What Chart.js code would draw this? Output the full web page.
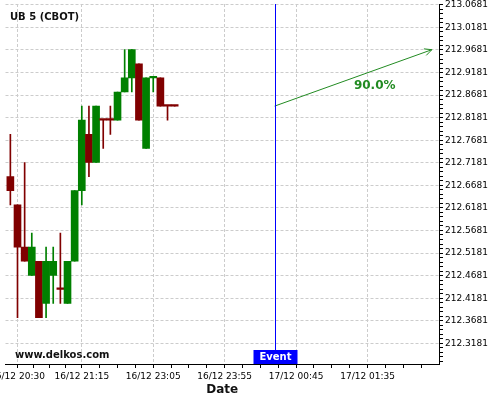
<!DOCTYPE html>
<html>
<head>
<meta charset="utf-8">
<script src="https://cdn.jsdelivr.net/npm/chart.js@4.4.1/dist/chart.umd.min.js"></script>
<style>
  html, body { margin: 0; padding: 0; background: #fff; }
  #wrap { width: 500px; height: 400px; }
</style>
</head>
<body>
<div id="wrap"><canvas id="candleChart"></canvas></div>
<script>
// UB 5 (CBOT) - 5 min candles, prices move in 1/32 steps
const opens  = [212.6875, 212.625, 212.53125, 212.46875, 212.5, 212.40625, 212.46875, 212.4375,
                212.40625, 212.5, 212.65625, 212.78125, 212.71875, 212.8125, 212.8125, 212.8125,
                212.875, 212.90625, 212.9375, 212.75, 212.90625, 212.90625, 212.84375, 212.84375];
const highs  = [212.78125, 212.625, 212.71875, 212.5625, 212.5, 212.53125, 212.53125, 212.5625,
                212.5, 212.65625, 212.84375, 212.84375, 212.84375, 212.8125, 212.84375, 212.875,
                212.96875, 212.96875, 212.9375, 212.90625, 212.90625, 212.90625, 212.84375, 212.84375];
const lows   = [212.625, 212.375, 212.5, 212.46875, 212.375, 212.375, 212.40625, 212.40625,
                212.40625, 212.5, 212.625, 212.6875, 212.71875, 212.75, 212.78125, 212.8125,
                212.875, 212.875, 212.8125, 212.75, 212.875, 212.84375, 212.8125, 212.84375];
const closes = [212.65625, 212.53125, 212.5, 212.53125, 212.375, 212.5, 212.5, 212.4375,
                212.5, 212.65625, 212.8125, 212.71875, 212.84375, 212.8125, 212.8125, 212.875,
                212.90625, 212.96875, 212.8125, 212.90625, 212.90625, 212.84375, 212.84375, 212.84375];
// doji candles that are drawn green
const upDojis = [20];

// x axis: bar index -> date label
const xTickIdx    = [1, 10, 20, 30, 40, 50];
const xTickLabels = ['16/12 20:30', '16/12 21:15', '16/12 23:05', '16/12 23:55', '17/12 00:45', '17/12 01:35'];
const yTickValues = [212.3181, 212.3681, 212.4181, 212.4681, 212.5181, 212.5681, 212.6181, 212.6681,
                     212.7181, 212.7681, 212.8181, 212.8681, 212.9181, 212.9681, 213.0181, 213.0681];

// event and forecast
const eventIdx = 37;
const targetIdx = 59;
const targetPrice = 212.96875;
const forecastLabel = '90.0%';

const RED = '#800000';
const GREEN = '#008000';
const ARROW = '#228b22';
const FONT = 'DejaVu Sans';

const isUp = opens.map((o, i) => closes[i] > o || (closes[i] === o && upDojis.includes(i)));
const candleColors = isUp.map(u => u ? GREEN : RED);

const bodies = opens.map((o, i) => ({x: i, y: [o, closes[i]]}));
const wicks = lows.map((l, i) => ({x: i, y: [l, highs[i]]}));
const lastClose = closes[closes.length - 1];

const overlay = {
    id: 'overlay',
    afterDatasetsDraw(chart) {
        const {ctx, chartArea, scales: {x, y}} = chart;
        ctx.save();

        // event line
        const ex = Math.round(x.getPixelForValue(eventIdx)) + 0.5;
        ctx.strokeStyle = '#0000ff';
        ctx.lineWidth = 1;
        ctx.beginPath();
        ctx.moveTo(ex, chartArea.top);
        ctx.lineTo(ex, chartArea.bottom);
        ctx.stroke();

        // arrow head
        const pts = chart.getDatasetMeta(2).data;
        const p0 = pts[0], p1 = pts[1];
        const ang = Math.atan2(p1.y - p0.y, p1.x - p0.x);
        ctx.strokeStyle = ARROW;
        ctx.beginPath();
        ctx.moveTo(p1.x - 8 * Math.cos(ang - 0.45), p1.y - 8 * Math.sin(ang - 0.45));
        ctx.lineTo(p1.x, p1.y);
        ctx.lineTo(p1.x - 8 * Math.cos(ang + 0.45), p1.y - 8 * Math.sin(ang + 0.45));
        ctx.stroke();

        ctx.fillStyle = ARROW;
        ctx.font = 'bold 12px "' + FONT + '"';
        ctx.textAlign = 'center';
        ctx.textBaseline = 'middle';
        ctx.fillText(forecastLabel, x.getPixelForValue(51), y.getPixelForValue(212.889));

        // event tag
        ctx.fillStyle = '#0000ff';
        ctx.fillRect(ex - 22, chartArea.bottom - 14, 44, 14);
        ctx.fillStyle = '#fff';
        ctx.font = 'bold 10px "' + FONT + '"';
        ctx.fillText('Event', ex, chartArea.bottom - 6.5);

        // title and watermark
        ctx.fillStyle = '#111';
        ctx.textAlign = 'left';
        ctx.textBaseline = 'alphabetic';
        ctx.fillText('UB 5 (CBOT)', 10, 19.5);
        ctx.fillText('www.delkos.com', 15, 357.5);
        ctx.restore();
    }
};

const minorColor = ctx => (ctx.tick && ctx.tick.minor) ? 'rgba(0,0,0,0)' : '#cccccc';

new Chart(document.getElementById('candleChart'), {
    type: 'bar',
    data: {
        datasets: [{
            label: 'wicks',
            data: wicks,
            backgroundColor: candleColors,
            barThickness: 1,
            grouped: false,
            order: 2
        }, {
            label: 'bodies',
            data: bodies,
            backgroundColor: candleColors,
            barThickness: 7,
            minBarLength: 1.5,
            grouped: false,
            order: 1
        }, {
            type: 'line',
            label: 'forecast',
            data: [{x: eventIdx, y: lastClose}, {x: targetIdx, y: targetPrice}],
            borderColor: ARROW,
            borderWidth: 1,
            pointRadius: 0,
            order: 0
        }]
    },
    options: {
        responsive: true,
        maintainAspectRatio: false,
        animation: false,
        layout: {
            padding: {left: 5.5, top: 4, right: 0, bottom: 0}
        },
        plugins: {
            legend: {display: false},
            tooltip: {enabled: false}
        },
        scales: {
            x: {
                type: 'linear',
                min: -0.68,
                max: 60,
                offset: false,
                grid: {
                    offset: false,
                    color: minorColor,
                    tickColor: '#000',
                    tickLength: 4
                },
                border: {
                    display: true,
                    color: '#000',
                    dash: [3, 2]
                },
                ticks: {
                    autoSkip: false,
                    maxRotation: 0,
                    padding: 3,
                    color: '#000',
                    font: {family: FONT, size: 9},
                    callback: (v) => {
                        const k = xTickIdx.indexOf(v);
                        return k >= 0 ? xTickLabels[k] : '';
                    }
                },
                title: {
                    display: true,
                    text: 'Date',
                    color: '#111',
                    font: {family: FONT, size: 12, weight: 'bold'},
                    padding: {top: 0, bottom: 3}
                },
                afterBuildTicks: (scale) => {
                    const ticks = xTickIdx.map(v => ({value: v}));
                    for (let i = 0; i < xTickIdx.length; i++) {
                        const a = xTickIdx[i];
                        const step = i < xTickIdx.length - 1 ? (xTickIdx[i + 1] - a) / 4 : 2.5;
                        for (let k = 1; k < 4; k++) ticks.push({value: a + k * step, minor: true});
                    }
                    scale.ticks = ticks.sort((p, q) => p.value - q.value);
                },
                afterFit: (scale) => {
                    scale.height = 36;
                    scale.paddingLeft = 0;
                    scale.paddingRight = 0;
                }
            },
            y: {
                position: 'right',
                min: 212.2722,
                max: 213.07,
                grid: {
                    color: minorColor,
                    tickColor: '#000',
                    tickLength: 4
                },
                border: {
                    display: true,
                    color: '#000',
                    dash: [3, 2]
                },
                ticks: {
                    autoSkip: false,
                    padding: 2,
                    color: '#000',
                    font: {family: FONT, size: 9},
                    callback: (v, i, ticks) => ticks[i].minor ? '' : v.toFixed(4)
                },
                afterBuildTicks: (scale) => {
                    const ticks = yTickValues.map(v => ({value: v}));
                    const first = yTickValues[0];
                    for (let k = 1; k <= 4; k++) ticks.push({value: first - k * 0.01, minor: true});
                    yTickValues.slice(0, -1).forEach(v => {
                        for (let k = 1; k <= 4; k++) ticks.push({value: v + k * 0.01, minor: true});
                    });
                    scale.ticks = ticks.filter(t => t.value >= 212.2722).sort((p, q) => p.value - q.value);
                },
                afterFit: (scale) => {
                    scale.width = 61;
                    scale.paddingTop = 0;
                    scale.paddingBottom = 0;
                }
            }
        }
    },
    plugins: [overlay]
});
</script>
</body>
</html>
